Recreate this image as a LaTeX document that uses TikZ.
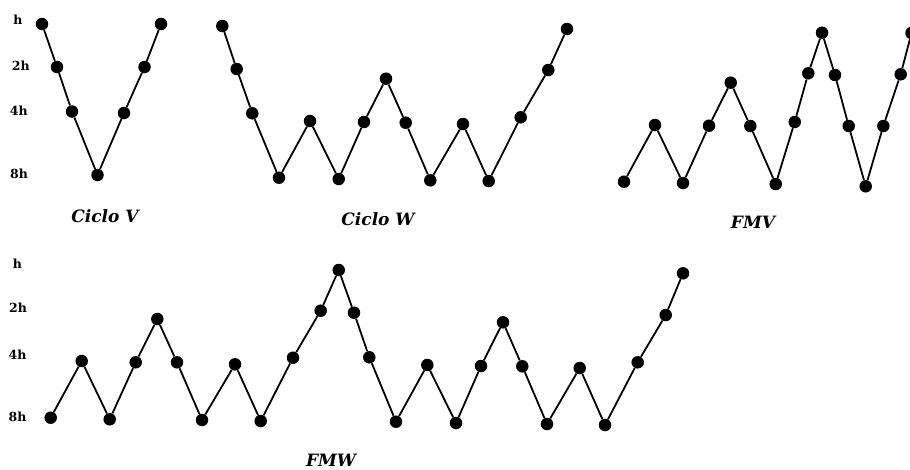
\documentclass[tikz,border=0pt]{standalone}
\usepackage{fontspec}
\setmainfont{DejaVu Serif}
\begin{document}
\begin{tikzpicture}[x=1pt,y=-1pt,
  dot/.style={circle,fill=black,inner sep=0pt,minimum size=12.5pt},
  seg/.style={line width=1.8pt},
  lev/.style={font=\fontsize{12.5}{14}\selectfont\bfseries,inner sep=0pt},
  ttl/.style={font=\fontsize{17}{19}\selectfont\bfseries\itshape,inner sep=0pt}]
\useasboundingbox (0,0) rectangle (910,469);
% level labels
\node[lev] (lh1) at (18,19.5) {h};
\node[lev] (l2h1) at (20.8,66.2) {2h};
\node[lev] (l4h1) at (18.7,111.2) {4h};
\node[lev] (l8h1) at (19,174.2) {8h};
\node[lev] (lh2) at (17.5,263.5) {h};
\node[lev] (l2h2) at (18,308) {2h};
\node[lev] (l4h2) at (17.5,354.5) {4h};
\node[lev] (l8h2) at (17.5,416.5) {8h};
% titles
\node[ttl] (tv) at (105,216) {Ciclo V};
\node[ttl] (tw) at (378,219) {Ciclo W};
\node[ttl] (tf) at (753,222) {FMV};
\node[ttl] (tm) at (331,460) {FMW};
% Ciclo V
\foreach \x/\y [count=\i] in {42/24, 57/67, 72/111.5, 97.5/175, 124/113, 144.5/67, 161/24}{
  \node[dot] (v\i) at (\x,\y) {};
  \ifnum\i>1 \pgfmathtruncatemacro\j{\i-1}\draw[seg] (v\j) -- (v\i);\fi
}
% Ciclo W
\foreach \x/\y [count=\i] in {222.3/26, 236.7/69, 252.3/113.3, 279/177.7, 310/121, 338.7/179, 364/122, 386/78.7, 405.7/122.7, 430.3/180.3, 463/124, 488.7/181, 520.7/117.3, 548.3/70, 567/29}{
  \node[dot] (w\i) at (\x,\y) {};
  \ifnum\i>1 \pgfmathtruncatemacro\j{\i-1}\draw[seg] (w\j) -- (w\i);\fi
}
% FMV
\foreach \x/\y [count=\i] in {624/181.7, 655/125, 683/183, 709/125.7, 730.7/82.7, 750.3/126, 775.7/184, 794.7/122, 808.3/73.3, 822/32.7, 835/75, 848.7/126, 865.7/186.3, 883.3/126, 900.7/74.3, 911.5/33}{
  \node[dot] (f\i) at (\x,\y) {};
  \ifnum\i>1 \pgfmathtruncatemacro\j{\i-1}\draw[seg] (f\j) -- (f\i);\fi
}
% FMW
\foreach \x/\y [count=\i] in {50.7/417.7, 81.7/361, 109.7/419.3, 135.7/362.3, 157.3/319, 177/362.3, 202/420, 235/364.3, 260.7/421, 293/357.7, 320.7/310.7, 338.7/270, 354/312.7, 369.3/357.3, 396/421.7, 427.3/365, 456/423, 481/366, 503/322.3, 522.3/366.3, 547/424, 579.7/368, 605/425, 637.7/362.3, 665.7/315, 683/273.3}{
  \node[dot] (m\i) at (\x,\y) {};
  \ifnum\i>1 \pgfmathtruncatemacro\j{\i-1}\draw[seg] (m\j) -- (m\i);\fi
}
\end{tikzpicture}
\end{document}
